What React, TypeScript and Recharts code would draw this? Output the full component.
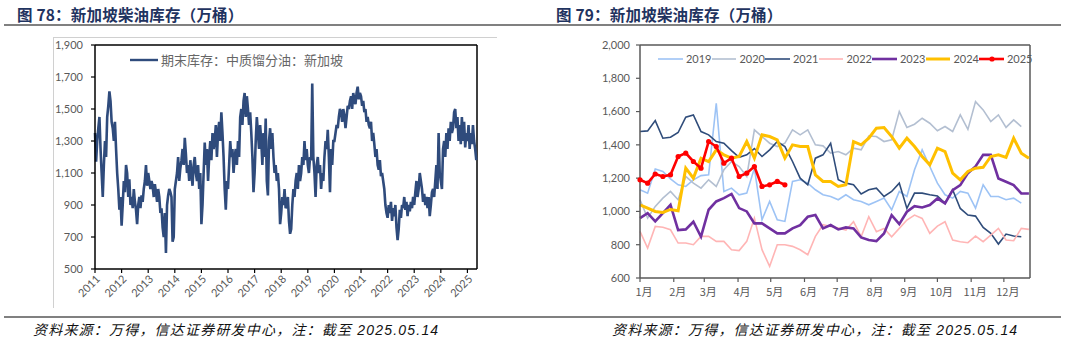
import React from "react";
import { LineChart, Line, XAxis, YAxis, ReferenceLine } from "recharts";

// ---------- left chart: weekly inventory 2011-2025 (2 readings / month) ----------
const YEARS = [2011, 2012, 2013, 2014, 2015, 2016, 2017, 2018, 2019, 2020, 2021, 2022, 2023, 2024, 2025];
const INV_2011 = [1350, 1170, 1300, 1380, 1450, 1250, 1100, 950, 1150, 1300, 1200, 1450, 1520, 1610, 1550, 1420, 1380, 1300, 1420, 1250, 1100, 1000, 870, 950];
const INV_2012 = [770, 900, 1050, 980, 1150, 1100, 950, 1060, 900, 950, 880, 1000, 920, 870, 780, 900, 950, 880, 960, 920, 1000, 1050, 1150, 1020];
const INV_2013 = [1100, 1050, 1000, 1050, 1020, 950, 1030, 980, 920, 1000, 950, 850, 880, 760, 700, 850, 600, 900, 960, 1000, 980, 950, 670, 700];
const INV_2014 = [1000, 1050, 1100, 1200, 1050, 1130, 1180, 1250, 1150, 1320, 1220, 1100, 1150, 1050, 1180, 1100, 1020, 1150, 1200, 1100, 1050, 1150, 1000, 1100];
const INV_2015 = [780, 900, 1100, 1290, 1150, 1250, 1050, 1200, 1300, 1180, 1350, 1250, 1300, 1400, 1200, 1350, 1420, 1300, 1480, 1350, 1200, 1000, 870, 1050];
const INV_2016 = [1000, 1150, 1300, 1200, 1250, 1100, 1200, 1250, 1150, 1300, 1200, 1450, 1500, 1400, 1550, 1600, 1450, 1580, 1500, 1400, 1480, 1350, 1200, 980];
const INV_2017 = [1100, 1300, 1450, 1350, 1250, 1400, 1300, 1150, 1350, 1200, 1440, 1050, 960, 1300, 1380, 1250, 1350, 1200, 1100, 1150, 1050, 1100, 1000, 780];
const INV_2018 = [850, 950, 900, 1000, 880, 900, 950, 800, 720, 750, 900, 1000, 950, 1050, 1100, 1000, 1150, 1050, 1100, 1200, 1150, 1300, 1180, 1250];
const INV_2019 = [1150, 1100, 1200, 1180, 1660, 1200, 1100, 950, 1150, 1200, 1100, 1150, 1000, 1100, 1050, 1200, 1300, 1250, 1370, 1200, 980, 1250, 1150, 1300];
const INV_2020 = [1300, 1350, 1400, 1380, 1450, 1500, 1480, 1420, 1500, 1460, 1380, 1450, 1520, 1500, 1550, 1580, 1500, 1600, 1560, 1530, 1600, 1640, 1560, 1600];
const INV_2021 = [1580, 1520, 1550, 1480, 1500, 1420, 1450, 1400, 1380, 1420, 1300, 1350, 1280, 1200, 1250, 1150, 1120, 1180, 1080, 1100, 1050, 1000, 900, 850];
const INV_2022 = [820, 900, 850, 920, 800, 880, 830, 900, 760, 680, 750, 870, 820, 900, 880, 950, 870, 920, 830, 900, 860, 920, 880, 950];
const INV_2023 = [900, 980, 1050, 950, 1000, 1100, 1050, 1000, 920, 970, 900, 950, 880, 950, 830, 900, 980, 1000, 950, 1050, 1150, 1000, 1350, 1100];
const INV_2024 = [1050, 1000, 1250, 1300, 1200, 1350, 1250, 1380, 1300, 1420, 1350, 1380, 1480, 1500, 1380, 1450, 1300, 1400, 1280, 1450, 1300, 1420, 1260, 1350];
const INV_2025 = [1300, 1400, 1250, 1350, 1280, 1400, 1300, 1250, 1180];
const INV_BY_YEAR = [INV_2011, INV_2012, INV_2013, INV_2014, INV_2015, INV_2016, INV_2017, INV_2018, INV_2019, INV_2020, INV_2021, INV_2022, INV_2023, INV_2024, INV_2025];
const LEFT_Y_TICKS = [500, 700, 900, 1100, 1300, 1500, 1700, 1900];

// ---------- right chart: seasonal weekly inventory ----------
const MONTH_LABELS = ["1月", "2月", "3月", "4月", "5月", "6月", "7月", "8月", "9月", "10月", "11月", "12月"];
const MONTH_START_DAYS = [0, 31, 59, 90, 120, 151, 181, 212, 243, 273, 304, 334];
const RIGHT_Y_TICKS = [600, 800, 1000, 1200, 1400, 1600, 1800, 2000];
const SEASON_KEYS = ["2019", "2020", "2021", "2022", "2023", "2024", "2025"];
const S2019 = [1130, 1110, 1255, 1240, 1195, 1160, 1150, 1190, 1215, 1220, 1650, 1120, 1140, 1100, 1110, 1260, 950, 1060, 950, 940, 1180, 1190, 1170, 1130, 1100, 1090, 1070, 1100, 1070, 1060, 1040, 1060, 1080, 1010, 1120, 1090, 1250, 1370, 1270, 1170, 1100, 1080, 1120, 1110, 1020, 1160, 1090, 1090, 1070, 1080, 1050];
const S2020 = [1070, 960, 1030, 1080, 1120, 1070, 1210, 1170, 1140, 1190, 1150, 1250, 1300, 1270, 1210, 1490, 1450, 1410, 1390, 1410, 1490, 1460, 1490, 1400, 1394, 1350, 1360, 1340, 1380, 1370, 1453, 1450, 1420, 1430, 1600, 1505, 1524, 1560, 1530, 1485, 1510, 1480, 1580, 1493, 1660, 1610, 1540, 1580, 1505, 1550, 1510];
const S2021 = [1480, 1484, 1546, 1440, 1446, 1474, 1566, 1580, 1480, 1460, 1420, 1410, 1365, 1325, 1340, 1378, 1330, 1370, 1420, 1390, 1300, 1200, 1160, 1320, 1340, 1410, 1190, 1170, 1160, 1105, 1130, 1140, 1090, 1120, 1170, 1018, 1110, 1110, 1100, 1093, 1050, 1130, 1018, 978, 972, 904, 868, 804, 864, 852, 848];
const S2022 = [880, 780, 910, 905, 890, 810, 810, 800, 850, 850, 820, 820, 770, 765, 820, 960, 770, 670, 800, 800, 790, 770, 740, 850, 920, 910, 900, 888, 938, 848, 968, 878, 898, 848, 898, 948, 978, 958, 868, 912, 938, 828, 818, 812, 852, 818, 858, 898, 828, 824, 898, 892];
const S2023 = [960, 990, 940, 990, 1040, 888, 892, 938, 848, 1010, 1060, 1080, 1105, 1020, 1000, 928, 928, 898, 868, 868, 898, 918, 968, 978, 898, 918, 892, 904, 898, 844, 828, 822, 868, 978, 924, 998, 1032, 1024, 1038, 1078, 1048, 1128, 1158, 1230, 1270, 1340, 1340, 1198, 1178, 1158, 1108, 1108];
const S2024 = [1040, 1020, 1000, 994, 1012, 1004, 1260, 1200, 1320, 1300, 1370, 1340, 1320, 1330, 1420, 1320, 1460, 1450, 1430, 1320, 1400, 1390, 1390, 1220, 1180, 1180, 1150, 1160, 1420, 1400, 1440, 1500, 1504, 1450, 1380, 1440, 1390, 1330, 1280, 1380, 1360, 1230, 1190, 1240, 1260, 1265, 1330, 1340, 1325, 1440, 1350, 1320];
const S2025 = [1190, 1170, 1225, 1210, 1220, 1330, 1350, 1300, 1260, 1420, 1390, 1290, 1320, 1210, 1230, 1270, 1150, 1160, 1180, 1160];
const SEASON_VALUES = [S2019, S2020, S2021, S2022, S2023, S2024, S2025];
const SEASON_COLORS = ["#9DC3F5", "#B3BFD1", "#2F4C7A", "#FFB5B5", "#7030A0", "#FFC000", "#FF0000"];
const SEASON_WIDTHS = [1.6, 1.6, 1.6, 1.6, 2.6, 3, 2.6];

const leftData = INV_BY_YEAR.flatMap((arr, yi) =>
  arr.map((v, i) => ({ t: YEARS[yi] + i / 24, v })),
);
const WEEK_COUNT = Math.max(...SEASON_VALUES.map((s) => s.length));
const rightData = Array.from({ length: WEEK_COUNT }, (_, w) => {
  const row: any = { day: w * 7 };
  SEASON_KEYS.forEach((k, i) => {
    row[k] = SEASON_VALUES[i][w] ?? null;
  });
  return row;
});

const NUM_FONT = "Lato, 'Noto Sans CJK SC', sans-serif";
const CJK_FONT = "'Noto Sans CJK SC', sans-serif";
const fmt = (v: number) => v.toLocaleString("en-US");

function YearTick({ x, y, payload }: any) {
  return (
    <g transform={`translate(${x + 3},${y + 2})`}>
      <text
        transform="rotate(-45)"
        textAnchor="end"
        dy="0.35em"
        fill="#595959"
        fontSize={11}
        fontFamily={NUM_FONT}
      >
        {payload.value}
      </text>
    </g>
  );
}

function MonthTick({ x, y, payload }: any) {
  const idx = MONTH_START_DAYS.indexOf(payload.value);
  return (
    <text
      x={x + 4}
      y={y + 4}
      dy="0.71em"
      textAnchor="middle"
      fill="#595959"
      fontSize={11}
      fontFamily={CJK_FONT}
    >
      {MONTH_LABELS[idx]}
    </text>
  );
}

function Title({ left, text }: { left: number; text: string }) {
  return (
    <div
      style={{
        position: "absolute",
        left,
        top: 3,
        fontFamily: CJK_FONT,
        fontWeight: 700,
        fontSize: 15.5,
        color: "#1F3360",
        letterSpacing: 0.2,
        whiteSpace: "nowrap",
      }}
    >
      {text}
    </div>
  );
}

function Source({ left }: { left: number }) {
  return (
    <div
      style={{
        position: "absolute",
        left,
        top: 319,
        fontFamily: "'Liberation Sans', 'Noto Sans CJK SC', sans-serif",
        fontStyle: "italic",
        fontSize: 14,
        letterSpacing: 1.2,
        color: "#111",
        whiteSpace: "nowrap",
      }}
    >
      资料来源：万得，信达证券研发中心，注：截至 2025.05.14
    </div>
  );
}

export default function App() {
  return (
    <div
      style={{
        position: "absolute",
        left: 0,
        top: 0,
        width: 1088,
        height: 342,
        background: "#fff",
        overflow: "hidden",
      }}
    >
      <Title left={17} text="图 78：新加坡柴油库存（万桶）" />
      <Title left={556} text="图 79：新加坡柴油库存（万桶）" />
      <div style={{ position: "absolute", left: 4, top: 24, width: 1057, height: 2, background: "#808080" }} />
      <div style={{ position: "absolute", left: 4, top: 316, width: 1057, height: 1.5, background: "#808080" }} />
      <Source left={33} />
      <Source left={612} />

      {/* left chart */}
      <div
        style={{
          position: "absolute",
          left: 53,
          top: 37,
          width: 443,
          height: 270,
          borderTop: "1px solid #D0D0D0",
          borderLeft: "1px solid #D0D0D0",
        }}
      />
      <div style={{ position: "absolute", left: 53, top: 37 }}>
        <LineChart
          width={443}
          height={270}
          data={leftData}
          margin={{ top: 8, right: 19, left: 0, bottom: 0 }}
        >
          <XAxis
            dataKey="t"
            type="number"
            domain={[2011, 2025.36]}
            ticks={YEARS}
            interval={0}
            height={38}
            tick={<YearTick />}
            tickSize={4}
            axisLine={{ stroke: "#000", strokeWidth: 1.5 }}
            tickLine={{ stroke: "#000", strokeWidth: 1.2 }}
          />
          <YAxis
            type="number"
            domain={[500, 1900]}
            ticks={LEFT_Y_TICKS}
            interval={0}
            width={42}
            tickFormatter={fmt}
            tickSize={4}
            tickMargin={8}
            tick={{ fill: "#595959", fontSize: 11, fontFamily: NUM_FONT }}
            axisLine={{ stroke: "#000", strokeWidth: 1.5 }}
            tickLine={{ stroke: "#000", strokeWidth: 1.2 }}
          />
          <ReferenceLine y={1900} stroke="#000" strokeWidth={1.5} />
          <ReferenceLine x={2025.36} stroke="#000" strokeWidth={1.5} />
          <Line
            dataKey="v"
            type="linear"
            stroke="#2F4B7C"
            strokeWidth={2.6}
            dot={false}
            isAnimationActive={false}
          />
        </LineChart>
      </div>
      <div
        style={{
          position: "absolute",
          left: 130,
          top: 50,
          display: "flex",
          alignItems: "center",
          gap: 3,
          fontFamily: CJK_FONT,
          fontSize: 13,
          color: "#666",
          whiteSpace: "nowrap",
        }}
      >
        <svg width={28} height={6}>
          <line x1={0} y1={3} x2={28} y2={3} stroke="#2F4B7C" strokeWidth={2.4} />
        </svg>
        <span>期末库存：中质馏分油：新加坡</span>
      </div>

      {/* right chart */}
      <div style={{ position: "absolute", left: 580, top: 30 }}>
        <LineChart
          width={470}
          height={280}
          data={rightData}
          margin={{ top: 15, right: 20, left: 0, bottom: 0 }}
        >
          <XAxis
            dataKey="day"
            type="number"
            domain={[0, 358]}
            ticks={MONTH_START_DAYS}
            interval={0}
            height={32}
            tick={<MonthTick />}
            tickSize={4}
            axisLine={{ stroke: "#595959", strokeWidth: 1.5 }}
            tickLine={{ stroke: "#595959", strokeWidth: 1.2 }}
          />
          <YAxis
            type="number"
            domain={[600, 2000]}
            ticks={RIGHT_Y_TICKS}
            interval={0}
            width={60}
            tickFormatter={fmt}
            tickSize={4}
            tickMargin={6}
            tick={{ fill: "#595959", fontSize: 11, fontFamily: NUM_FONT }}
            axisLine={{ stroke: "#595959", strokeWidth: 1.5 }}
            tickLine={{ stroke: "#595959", strokeWidth: 1.2 }}
          />
          <ReferenceLine y={2000} stroke="#595959" strokeWidth={1.5} />
          <ReferenceLine x={358} stroke="#595959" strokeWidth={1.5} />
          {SEASON_KEYS.map((k, i) => (
            <Line
              key={k}
              dataKey={k}
              type="linear"
              stroke={SEASON_COLORS[i]}
              strokeWidth={SEASON_WIDTHS[i]}
              dot={k === "2025" ? { r: 2.6, fill: "#FF0000", stroke: "#FF0000", strokeWidth: 0 } : false}
              connectNulls={false}
              isAnimationActive={false}
            />
          ))}
        </LineChart>
      </div>
      <div
        style={{
          position: "absolute",
          left: 658,
          top: 52,
          display: "flex",
          fontFamily: NUM_FONT,
          fontSize: 11,
          color: "#595959",
          whiteSpace: "nowrap",
        }}
      >
        {SEASON_KEYS.map((k, i) => (
          <div key={k} style={{ width: 53.5, display: "flex", alignItems: "center", gap: 3 }}>
            <svg width={26} height={8}>
              <line x1={0} y1={4} x2={26} y2={4} stroke={SEASON_COLORS[i]} strokeWidth={SEASON_WIDTHS[i]} />
              {k === "2025" && <circle cx={13} cy={4} r={2.6} fill="#FF0000" />}
            </svg>
            <span>{k}</span>
          </div>
        ))}
      </div>
    </div>
  );
}
